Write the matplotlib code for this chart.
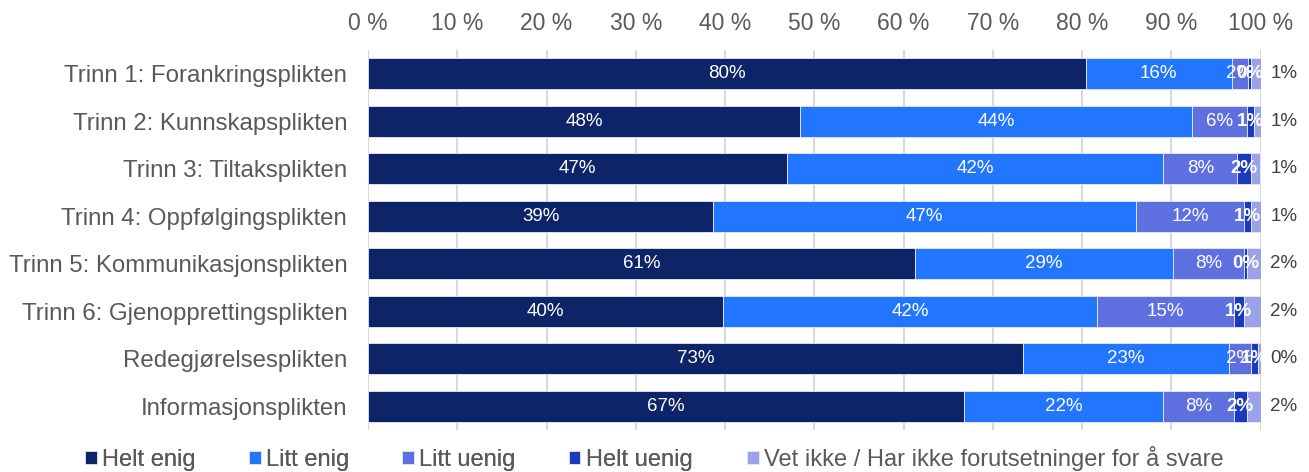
import matplotlib
matplotlib.use("Agg")
import matplotlib.pyplot as plt
from matplotlib.ticker import FixedLocator

plt.rcParams['font.family'] = ['Liberation Sans', 'DejaVu Sans']

categories = [
    "Trinn 1: Forankringsplikten",
    "Trinn 2: Kunnskapsplikten",
    "Trinn 3: Tiltaksplikten",
    "Trinn 4: Oppfølgingsplikten",
    "Trinn 5: Kommunikasjonsplikten",
    "Trinn 6: Gjenopprettingsplikten",
    "Redegjørelsesplikten",
    "Informasjonsplikten",
]
series_names = ["Helt enig", "Litt enig", "Litt uenig", "Helt uenig",
                "Vet ikke / Har ikke forutsetninger for å svare"]
helt_enig = [80.4, 48.4, 46.9, 38.7, 61.3, 39.8, 73.4, 66.8]
litt_enig = [16.4, 43.9, 42.2, 47.3, 28.9, 41.9, 23.1, 22.3]
litt_uenig = [1.8, 6.2, 8.3, 12.2, 8.0, 15.3, 2.4, 7.9]
helt_uenig = [0.3, 0.8, 1.5, 0.7, 0.3, 1.1, 0.8, 1.5]
vet_ikke = [1.1, 0.7, 1.1, 1.1, 1.5, 1.9, 0.3, 1.5]
series = [helt_enig, litt_enig, litt_uenig, helt_uenig, vet_ikke]
colors = ["#0E2469", "#2175FF", "#5E6FE0", "#1B3BBF", "#9AA2E8"]
xticks = list(range(0, 101, 10))
xticklabels = [f"{t} %" for t in xticks]

fig = plt.figure(figsize=(13.09, 4.72), dpi=100)
ax = fig.add_axes([368/1309, 1-430/472, (1260.5-368)/1309, 380/472])

y = list(range(len(categories)))
left = [0.0]*len(categories)
bars_all = []
for i, (vals, col, name) in enumerate(zip(series, colors, series_names)):
    bars = ax.barh(y, vals, left=left, height=0.65, color=col, label=name,
                   edgecolor='#E8EAF4', linewidth=0.6, zorder=3)
    bars_all.append(bars)
    for j, v in enumerate(vals):
        if i < 4:
            cx = left[j] + v/2
            ax.text(cx, j, f"{round(v):.0f}%", ha='center', va='center',
                    color='white', fontsize=13.5,
                    fontweight='bold' if i == 3 else 'normal', zorder=5)
        else:
            ax.text(101.1, j, f"{round(v):.0f}%", ha='left', va='center',
                    color='#404040', fontsize=13.5, zorder=5, clip_on=False)
    left = [l + v for l, v in zip(left, vals)]

ax.set_xlim(0, 100)
ax.set_ylim(len(categories)-0.5, -0.5)
ax.set_yticks(y)
ax.set_yticklabels(categories, fontsize=17.3, color='#595959')
ax.xaxis.set_major_locator(FixedLocator(xticks))
ax.set_xticklabels(xticklabels, fontsize=16.5, color='#595959')
ax.xaxis.tick_top()
ax.tick_params(axis='both', length=0)
ax.tick_params(axis='x', pad=11)
ax.tick_params(axis='y', pad=15)
ax.grid(axis='x', color='#D9D9D9', linewidth=1.5, zorder=0)
for s in ax.spines.values():
    s.set_visible(False)

leg_kw = dict(loc='lower left', frameon=False, borderpad=0, borderaxespad=0,
              fontsize=17, handlelength=0.5, handleheight=0.5,
              handletextpad=0.22)
leg1 = fig.legend(handles=bars_all[:4], labels=series_names[:4],
                  bbox_to_anchor=(85/1309, 1/472), ncol=4,
                  columnspacing=2.25, **leg_kw)
fig.add_artist(leg1)
leg2 = fig.legend(handles=bars_all[4:], labels=series_names[4:],
                  bbox_to_anchor=(747/1309, 1/472), ncol=1, **leg_kw)
for lg in (leg1, leg2):
    for t in lg.get_texts():
        t.set_color('#595959')

fig.savefig("out.png", dpi=100)
